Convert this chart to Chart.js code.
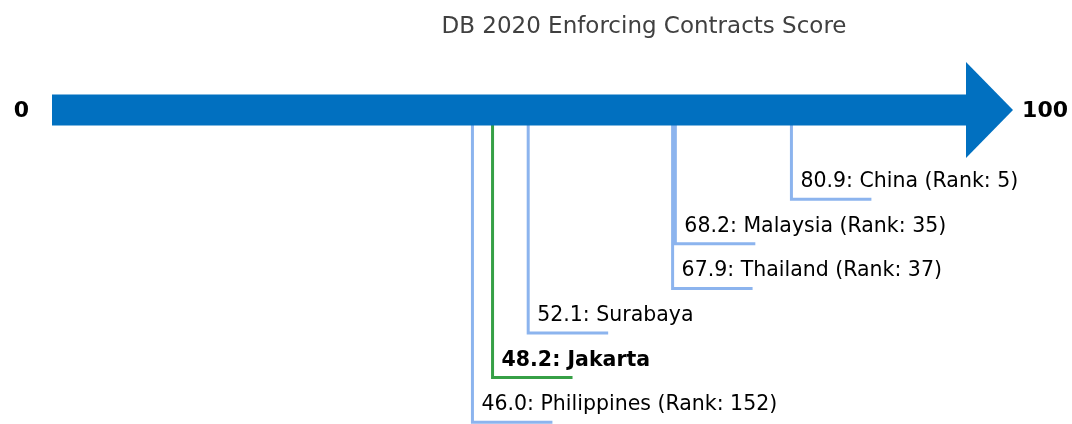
<!DOCTYPE html>
<html>
<head>
<meta charset="utf-8">
<script src="https://cdn.jsdelivr.net/npm/chart.js@4.4.1/dist/chart.umd.min.js"></script>
<style>
  html, body { margin: 0; padding: 0; background: #ffffff; }
  #scoreline { display: block; }
</style>
</head>
<body>
<canvas id="scoreline" width="1072" height="424"></canvas>
<script>
// DB 2020 enforcing contracts scores
const chartTitle = "DB 2020 Enforcing Contracts Score";
const places = ["Philippines", "Jakarta", "Surabaya", "Thailand", "Malaysia", "China"];
const scores = [46.0, 48.2, 52.1, 67.9, 68.2, 80.9];
const ranks = [152, null, null, 37, 35, 5];
const highlighted = "Jakarta";
const scaleMin = 0;
const scaleMax = 100;

const arrowBlue = "#0170c0";
const markerBlue = "#8cb4ee";
const markerGreen = "#36a046";

// layout of the drawing (pixels)
const pxPerUnit = 9.14;
const leftPx = 52;
const rowPx = 44.6;
const axisPx = 110;
const W = 1072, H = 424;
const headLen = 5.15;    // arrowhead length, score units
const headHalf = 1.076;  // arrowhead half height, rows
const tailLen = 8.75;    // marker foot length, score units

// highest score sits on the first row under the arrow
const order = scores.map((s, i) => i).sort((a, b) => scores[b] - scores[a]);
const rowOf = [];
order.forEach((idx, k) => { rowOf[idx] = k + 2; });

function labelFor(i) {
  let txt = scores[i].toFixed(1) + ": " + places[i];
  if (ranks[i] !== null) txt += " (Rank: " + ranks[i] + ")";
  return txt;
}

function markerDatasets() {
  return scores.map((s, i) => ({
    label: places[i],
    data: [
      { x: s, y: 0 },
      { x: s, y: rowOf[i] },
      { x: s + tailLen, y: rowOf[i] },
    ],
    borderColor: places[i] === highlighted ? markerGreen : markerBlue,
    borderWidth: 3,
    borderJoinStyle: "miter",
    pointRadius: 0,
    tension: 0,
    fill: false,
    order: 2,
  }));
}

// arrowhead as two filled halves, each running left to right
function headHalfDataset(sign) {
  return {
    label: "head",
    data: [
      { x: scaleMax, y: sign * headHalf },
      { x: scaleMax + headLen, y: 0 },
    ],
    borderWidth: 0,
    borderColor: arrowBlue,
    backgroundColor: arrowBlue,
    pointRadius: 0,
    fill: "origin",
    order: 0,
  };
}

const labelPlugin = {
  id: "scoreLabels",
  afterDatasetsDraw(chart) {
    const ctx = chart.ctx;
    const xs = chart.scales.x;
    const ys = chart.scales.y;
    ctx.save();

    ctx.fillStyle = "#404040";
    ctx.font = "23px 'DejaVu Sans'";
    ctx.textAlign = "center";
    ctx.textBaseline = "middle";
    ctx.fillText(chartTitle, 644, 27);

    ctx.fillStyle = "#000000";
    ctx.textBaseline = "alphabetic";
    scores.forEach((s, i) => {
      const bold = places[i] === highlighted;
      ctx.font = (bold ? "bold " : "") + "20.5px 'DejaVu Sans'";
      ctx.textAlign = "left";
      ctx.fillText(labelFor(i), xs.getPixelForValue(s) + 9, ys.getPixelForValue(rowOf[i]) - 12);
    });

    ctx.font = "bold 22px 'DejaVu Sans'";
    ctx.textBaseline = "middle";
    ctx.textAlign = "right";
    ctx.fillText(String(scaleMin), xs.getPixelForValue(scaleMin) - 23, ys.getPixelForValue(0) + 1);
    ctx.textAlign = "left";
    ctx.fillText(String(scaleMax), xs.getPixelForValue(scaleMax + headLen) + 9, ys.getPixelForValue(0) + 1);
    ctx.restore();
  },
};

function init() {
  const ctx = document.getElementById("scoreline");
  new Chart(ctx, {
    type: "line",
    data: {
      datasets: [
        {
          label: "shaft",
          data: [{ x: scaleMin, y: 0 }, { x: scaleMax, y: 0 }],
          borderColor: arrowBlue,
          borderWidth: 31,
          borderCapStyle: "butt",
          pointRadius: 0,
          fill: false,
          order: 0,
        },
        headHalfDataset(-1),
        headHalfDataset(1),
        ...markerDatasets(),
      ],
    },
    options: {
      responsive: false,
      animation: false,
      devicePixelRatio: 1,
      layout: { padding: 0 },
      scales: {
        x: {
          type: "linear",
          display: false,
          min: -leftPx / pxPerUnit,
          max: (W - leftPx) / pxPerUnit,
        },
        y: {
          type: "linear",
          display: false,
          reverse: true,
          min: -axisPx / rowPx,
          max: (H - axisPx) / rowPx,
        },
      },
      plugins: {
        legend: { display: false },
        tooltip: { enabled: false },
        title: { display: false },
      },
    },
    plugins: [labelPlugin],
  });
}

window.onload = init;
</script>
</body>
</html>
